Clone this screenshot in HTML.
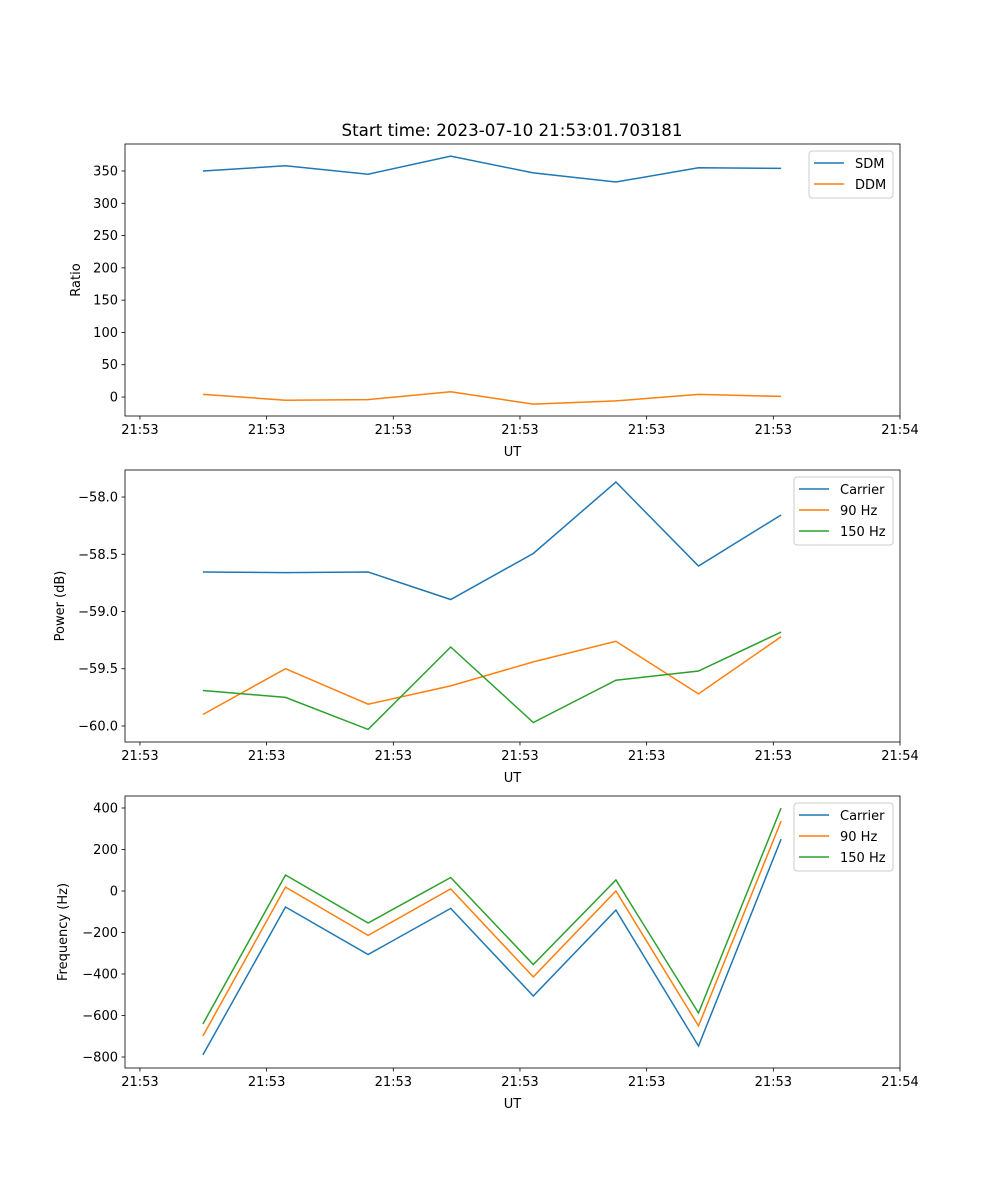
<!DOCTYPE html>
<html><head><meta charset="utf-8"><style>
body{margin:0;background:#fff;}
svg{display:block;font-family:"DejaVu Sans","Liberation Sans",sans-serif;}
</style></head><body>
<svg id="fig" width="1000" height="1200"></svg>
<script>
const times=[4.97,11.49,18.01,24.53,31.05,37.57,44.09,50.61];
const xTicks=[0,10,20,30,40,50,60];
const xTickLabels=["21:53","21:53","21:53","21:53","21:53","21:53","21:54"];
const sdm=[350,358,345,373,347,333,355,354];
const ddm=[4,-5,-4,8,-11,-6,4,1];
const pCarrier=[-58.655,-58.66,-58.655,-58.895,-58.493,-57.869,-58.603,-58.157];
const p90=[-59.90,-59.50,-59.81,-59.65,-59.44,-59.26,-59.72,-59.22];
const p150=[-59.69,-59.75,-60.03,-59.31,-59.97,-59.60,-59.52,-59.18];
const fCarrier=[-790,-77,-306,-84,-506,-92,-747,250];
const f90=[-699,19,-214,10,-414,0,-650,337];
const f150=[-641,77,-154,65,-354,53,-588,400];
const ticks1=[0,50,100,150,200,250,300,350];
const ticks2=[-60.0,-59.5,-59.0,-58.5,-58.0];
const ticks3=[-800,-600,-400,-200,0,200,400];

const NS="http://www.w3.org/2000/svg";
const svg=document.getElementById('fig');
function el(t,a,p){const e=document.createElementNS(NS,t);for(const k in a)e.setAttribute(k,a[k]);(p||svg).appendChild(e);return e;}
const X0=125,X1=900,XMIN=-1.18,XMAX=60;
function xs(v){return X0+(v-XMIN)/(XMAX-XMIN)*(X1-X0);}
const C=["#1f77b4","#ff7f0e","#2ca02c"];

function panel(name,top,ymin,ymax,yticks,fmt,ylabel,series,labels,legX,legW){
  const bot=top+272;
  const g=el('g',{});
  
  
  const ys=v=>bot-(v-ymin)/(ymax-ymin)*272;
  series.forEach((s,i)=>{
    const pts=s.map((v,j)=>xs(times[j]).toFixed(1)+','+ys(v).toFixed(1)).join(' ');
    const pl=el('polyline',{points:pts,fill:'none',stroke:C[i],'stroke-width':1.5},g);
    
    
  });
  const fr=el('rect',{x:X0,y:top,width:X1-X0,height:272,fill:'none',stroke:'#000','stroke-width':0.8},g);
  
  
  xTicks.forEach((t,i)=>{
    const x=xs(t);
    el('line',{x1:x,x2:x,y1:bot,y2:bot+3.5,stroke:'#000','stroke-width':0.8},g);
    const tx=el('text',{x:x,y:bot+18,'text-anchor':'middle','font-size':13},g);
    tx.textContent=xTickLabels[i];
    
    
  });
  yticks.forEach(t=>{
    const y=ys(t);
    el('line',{x1:X0-3.5,x2:X0,y1:y,y2:y,stroke:'#000','stroke-width':0.8},g);
    const tx=el('text',{x:X0-7,y:y+4.5,'text-anchor':'end','font-size':13},g);
    tx.textContent=fmt(t);
    
    
  });
  const xl=el('text',{x:(X0+X1)/2,y:bot+40,'text-anchor':'middle','font-size':13},g);
  xl.textContent='UT';
  
  
  const yl=el('text',{x:0,y:0,'text-anchor':'middle','font-size':13,transform:`translate(${ylabel[1]},${top+136}) rotate(-90)`},g);
  yl.textContent=ylabel[0];
  
  
  const lh=series.length*21+5;
  const lg=el('g',{},g);
  
  
  el('rect',{x:legX,y:top+7,width:legW,height:lh,rx:3,fill:'#fff','fill-opacity':0.8,stroke:'#ccc','stroke-width':1},lg);
  labels.forEach((l,i)=>{
    const y=top+19+i*21;
    el('line',{x1:legX+5,x2:legX+35,y1:y,y2:y,stroke:C[i],'stroke-width':1.5},lg);
    const t=el('text',{x:legX+46,y:y+5,'font-size':13},lg);
    t.textContent=l;
    
    
  });
}
const title=el('text',{x:512,y:136,'text-anchor':'middle','font-size':16.7});
title.textContent='Start time: 2023-07-10 21:53:01.703181';


panel('ratio-panel',144,-29.4,391.8,ticks1,v=>String(v),['Ratio',80],[sdm,ddm],['SDM','DDM'],809,84);
panel('power-panel',470,-60.14,-57.764,ticks2,v=>(v<0?'\u2212':'')+Math.abs(v).toFixed(1),['Power (dB)',64],[pCarrier,p90,p150],['Carrier','90 Hz','150 Hz'],794,99);
panel('frequency-panel',796,-853,457.8,ticks3,v=>(v<0?'\u2212':'')+Math.abs(v),['Frequency (Hz)',67],[fCarrier,f90,f150],['Carrier','90 Hz','150 Hz'],794,99);
</script>
</body></html>
